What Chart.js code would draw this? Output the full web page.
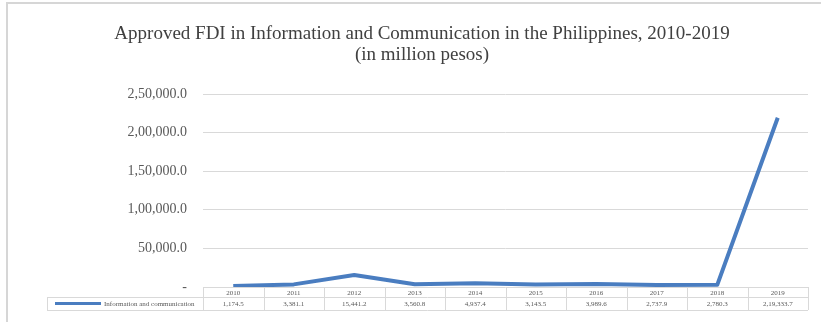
<!DOCTYPE html>
<html>
<head>
<meta charset="utf-8">
<title>Approved FDI in Information and Communication</title>
<script src="https://cdn.jsdelivr.net/npm/chart.js@4.4.0/dist/chart.umd.min.js"></script>
<style>
    html, body { margin: 0; padding: 0; background: #fff; }
    #wrap { position: relative; width: 821px; height: 322px; }
    #frame {
        position: absolute; left: 6px; top: 2px; right: 0; bottom: 0;
        border-left: 2px solid #d6d6d6; border-top: 2px solid #d6d6d6;
        pointer-events: none;
    }
    canvas { position: absolute; left: 0; top: 0; }
</style>
</head>
<body>
<div id="wrap">
    <canvas id="fdi-chart" width="821" height="322"></canvas>
    <div id="frame"></div>
</div>
<script>
// 年份與數值（百萬披索）
const years = ['2010', '2011', '2012', '2013', '2014', '2015', '2016', '2017', '2018', '2019'];
const infoComm = [1174.5, 3381.1, 15441.2, 3560.8, 4937.4, 3143.5, 3989.6, 2737.9, 2780.3, 219333.7];
const yTicks = [0, 50000, 100000, 150000, 200000, 250000];
const seriesName = 'Information and communication';
const titleLines = ['Approved FDI in Information and Communication in the Philippines, 2010-2019', '(in million pesos)'];

const LINE_COLOR = '#4a7dc0';
const GRID_COLOR = '#d9d9d9';
const TEXT_COLOR = '#595959';
const SERIF = '"Liberation Serif", "DejaVu Serif", serif';
const PAD_LEFT = 36;

/**
 * 印度式千分位（2,50,000.0）
 */
function formatIndian(v, decimals = 1) {
    const fixed = Math.abs(v).toFixed(decimals);
    let [intPart, dec] = fixed.split('.');
    let last3 = intPart.slice(-3);
    let rest = intPart.slice(0, -3);
    if (rest) {
        rest = rest.replace(/\B(?=(\d{2})+(?!\d))/g, ',');
        last3 = rest + ',' + last3;
    }
    return (v < 0 ? '-' : '') + last3 + (dec ? '.' + dec : '');
}

/**
 * 圖表下方的資料表
 */
const dataTablePlugin = {
    id: 'dataTable',
    afterDraw(chart) {
        const ctx = chart.ctx;
        const x = chart.scales.x;
        const area = chart.chartArea;
        const step = (area.right - area.left) / years.length;
        const top = area.bottom;
        const mid = top + 10;
        const bottom = top + 23;
        const legendLeft = 47;

        ctx.save();
        ctx.strokeStyle = GRID_COLOR;
        ctx.lineWidth = 1;
        ctx.beginPath();
        // 橫線
        ctx.moveTo(area.left, top + 0.5); ctx.lineTo(area.right, top + 0.5);
        ctx.moveTo(legendLeft, mid + 0.5); ctx.lineTo(area.right, mid + 0.5);
        ctx.moveTo(legendLeft, bottom + 0.5); ctx.lineTo(area.right, bottom + 0.5);
        // 直線
        ctx.moveTo(legendLeft + 0.5, mid); ctx.lineTo(legendLeft + 0.5, bottom);
        for (let i = 0; i <= years.length; i++) {
            const px = Math.round(area.left + i * step) + 0.5;
            ctx.moveTo(px, top); ctx.lineTo(px, bottom);
        }
        ctx.stroke();

        ctx.fillStyle = TEXT_COLOR;
        ctx.textAlign = 'center';
        ctx.textBaseline = 'middle';
        ctx.font = '7px ' + SERIF;
        years.forEach((yr, i) => {
            const cx = x.getPixelForValue(i);
            ctx.fillText(yr, cx, (top + mid) / 2 + 1);
            ctx.fillText(formatIndian(infoComm[i]), cx, (mid + bottom) / 2 + 1);
        });

        // 圖例
        ctx.strokeStyle = LINE_COLOR;
        ctx.lineWidth = 3;
        ctx.beginPath();
        ctx.moveTo(55, (mid + bottom) / 2);
        ctx.lineTo(101, (mid + bottom) / 2);
        ctx.stroke();
        ctx.textAlign = 'left';
        ctx.fillText(seriesName, 104, (mid + bottom) / 2 + 1);
        ctx.restore();
    }
};

const ctx = document.getElementById('fdi-chart');

new Chart(ctx, {
    type: 'line',
    data: {
        labels: years,
        datasets: [{
            label: seriesName,
            data: infoComm,
            borderColor: LINE_COLOR,
            backgroundColor: LINE_COLOR,
            borderWidth: 4,
            pointRadius: 0,
            tension: 0,
            borderJoinStyle: 'round'
        }]
    },
    options: {
        responsive: false,
        animation: false,
        layout: {
            padding: { left: PAD_LEFT, right: 13, top: 0, bottom: 35 }
        },
        plugins: {
            legend: { display: false },
            tooltip: { enabled: false },
            title: {
                display: true,
                text: titleLines,
                color: '#404040',
                font: { family: SERIF, size: 19, weight: 'normal', lineHeight: 1.08 },
                padding: { top: 24, bottom: 29 }
            }
        },
        scales: {
            x: {
                type: 'category',
                offset: true,
                display: false
            },
            y: {
                min: 0,
                max: 250000,
                afterFit: (scale) => { scale.width = 203 - PAD_LEFT; },
                afterBuildTicks: (scale) => {
                    scale.ticks = yTicks.map(v => ({ value: v }));
                },
                border: { display: false },
                grid: {
                    color: (c) => c.tick && c.tick.value === 0 ? 'rgba(0,0,0,0)' : GRID_COLOR,
                    drawTicks: false
                },
                ticks: {
                    padding: 16,
                    color: TEXT_COLOR,
                    font: { family: SERIF, size: 14 },
                    callback: (v) => v === 0 ? '-' : formatIndian(v)
                }
            }
        }
    },
    plugins: [dataTablePlugin]
});
</script>
</body>
</html>
